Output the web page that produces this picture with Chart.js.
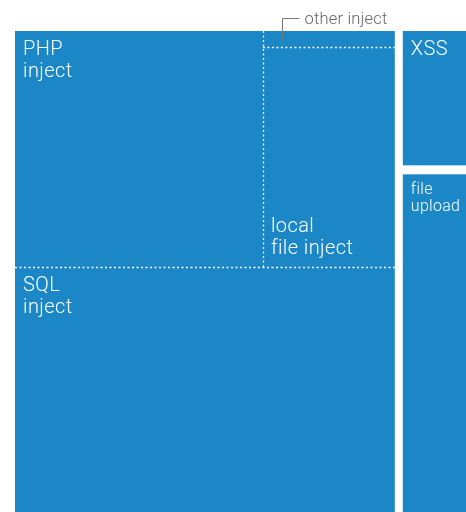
<!DOCTYPE html>
<html>
<head>
<meta charset="utf-8">
<script src="https://cdn.jsdelivr.net/npm/chart.js@4/dist/chart.umd.min.js"></script>
<style>
  html, body { margin: 0; padding: 0; background: #fff; }
  #wrap { width: 466px; height: 512px; }
</style>
</head>
<body>
<div id="wrap"><canvas id="treeChart" width="466" height="512"></canvas></div>
<script>
// share of attacks, percent of total
const categories = ["SQL inject", "PHP inject", "local file inject", "other inject", "XSS", "file upload"];
const values = [43.3, 27.0, 13.8, 1.0, 4.3, 10.6];
const labelLines = [["SQL", "inject"], ["PHP", "inject"], ["local", "file inject"], ["other inject"], ["XSS"], ["file", "upload"]];

const BLUE = "#1b87c7";
const FONT = "Roboto";

const val = name => values[categories.indexOf(name)];

// slice-and-dice tree: dir "h" splits left/right, "v" splits top/bottom
const tree = {
  dir: "h", sep: "gap", kids: [
    { dir: "v", sep: "dash", kids: [
      { dir: "h", sep: "dash", kids: [
        { leaf: "PHP inject" },
        { dir: "v", sep: "dash", kids: [{ leaf: "other inject" }, { leaf: "local file inject" }] }
      ] },
      { leaf: "SQL inject" }
    ] },
    { dir: "v", sep: "gap", kids: [{ leaf: "XSS" }, { leaf: "file upload" }] }
  ]
};

function total(node) {
  return node.leaf ? val(node.leaf) : node.kids.reduce((s, k) => s + total(k), 0);
}

// lay out in value space: x 0..100, y 0..1
function layout(node, x0, y0, x1, y1, out) {
  node.box = { x0, y0, x1, y1 };
  if (node.leaf) { out.push(node); return; }
  const sum = total(node);
  let pos = node.dir === "h" ? x0 : y0;
  node.kids.forEach(k => {
    const f = total(k) / sum;
    if (node.dir === "h") {
      const w = (x1 - x0) * f;
      layout(k, pos, y0, pos + w, y1, out);
      pos += w;
    } else {
      const h = (y1 - y0) * f;
      layout(k, x0, pos, x1, pos + h, out);
      pos += h;
    }
  });
}

const leaves = [];
const grand = values.reduce((a, b) => a + b, 0);
layout(tree, 0, 0, grand, 1, leaves);

const treemapPlugin = {
  id: "treemapPlugin",
  afterDatasetsDraw(chart) {
    const ctx = chart.ctx;
    const xs = chart.scales.x, ys = chart.scales.y;
    const px = b => ({
      l: xs.getPixelForValue(b.x0), r: xs.getPixelForValue(b.x1),
      t: ys.getPixelForValue(b.y0), b: ys.getPixelForValue(b.y1)
    });

    // blue blocks, solid white gaps where parent asks for it
    function fill(node, inset) {
      const p = px(node.box);
      if (node.leaf || node.sep === "dash") {
        ctx.fillStyle = BLUE;
        ctx.fillRect(p.l + inset.l, p.t + inset.t, p.r - p.l - inset.l - inset.r, p.b - p.t - inset.t - inset.b);
        node.inset = inset;
        if (!node.leaf) node.kids.forEach(k => markInset(k, inset));
        return;
      }
      node.kids.forEach((k, i) => {
        const n = node.kids.length;
        const ins = Object.assign({}, inset);
        const half = node.dir === "h" ? 4 : 4.5;
        if (node.dir === "h") {
          if (i > 0) ins.l = half;
          if (i < n - 1) ins.r = half;
        } else {
          if (i > 0) ins.t = half;
          if (i < n - 1) ins.b = half;
        }
        fill(k, ins);
      });
    }
    function markInset(k, inset) {
      k.inset = inset;
      if (!k.leaf) k.kids.forEach(c => markInset(c, inset));
    }
    fill(tree, { l: 0, r: 0, t: 0, b: 0 });

    // dotted dividers inside blocks
    ctx.save();
    ctx.strokeStyle = "#ffffff";
    ctx.lineWidth = 1.3;
    ctx.setLineDash([2, 2.5]);
    function dashes(node) {
      if (node.leaf) return;
      if (node.sep === "dash") {
        const ins = node.inset || { l: 0, r: 0, t: 0, b: 0 };
        node.kids.slice(1).forEach(k => {
          const p = px(k.box);
          const q = px(node.box);
          ctx.beginPath();
          if (node.dir === "h") {
            ctx.moveTo(Math.round(p.l) + 0.5, q.t + ins.t);
            ctx.lineTo(Math.round(p.l) + 0.5, q.b - ins.b);
          } else {
            ctx.moveTo(q.l + ins.l, Math.round(p.t) + 0.5);
            ctx.lineTo(q.r - ins.r, Math.round(p.t) + 0.5);
          }
          ctx.stroke();
        });
      }
      node.kids.forEach(dashes);
    }
    dashes(tree);
    ctx.restore();

    // labels
    ctx.save();
    ctx.textAlign = "left";
    ctx.textBaseline = "alphabetic";
    leaves.forEach(node => {
      const idx = categories.indexOf(node.leaf);
      const lines = labelLines[idx];
      const p = px(node.box);
      const ins = node.inset;
      const l = p.l + ins.l, t = p.t + ins.t, b = p.b - ins.b;
      if (node.leaf === "other inject") {
        // too small: leader line to a label above the chart
        const lx = Math.round(l + 19) + 0.5;
        ctx.strokeStyle = "#777";
        ctx.lineWidth = 1;
        ctx.beginPath();
        ctx.moveTo(lx, t + 9);
        ctx.lineTo(lx, 18.5);
        ctx.lineTo(lx + 17, 18.5);
        ctx.stroke();
        ctx.fillStyle = "#666";
        ctx.font = "300 16.5px " + FONT;
        ctx.letterSpacing = "0.2px";
        ctx.fillText(lines[0], lx + 22, 23.5);
        return;
      }
      const small = node.leaf === "file upload";
      const size = small ? 16 : 20;
      const lh = small ? 17 : 22;
      ctx.fillStyle = "#ffffff";
      ctx.font = "300 " + size + "px " + FONT;
      ctx.letterSpacing = small ? "0.3px" : "0.4px";
      let base;
      if (node.leaf === "local file inject") {
        base = b - 13 - lh * (lines.length - 1);
      } else {
        base = t + (small ? 20 : 24);
      }
      lines.forEach((s, i) => ctx.fillText(s, l + 8, base + i * lh));
    });
    ctx.restore();
  }
};

new Chart(document.getElementById("treeChart"), {
  type: "scatter",
  data: {
    datasets: [{ data: [], pointRadius: 0 }]
  },
  options: {
    responsive: false,
    animation: false,
    layout: { padding: { left: 15, top: 31, right: 0, bottom: 0 } },
    plugins: { legend: { display: false }, tooltip: { enabled: false } },
    scales: {
      x: { type: "linear", min: 0, max: grand, display: false },
      y: { type: "linear", min: 0, max: 1, reverse: true, display: false }
    }
  },
  plugins: [treemapPlugin]
});
</script>
</body>
</html>
